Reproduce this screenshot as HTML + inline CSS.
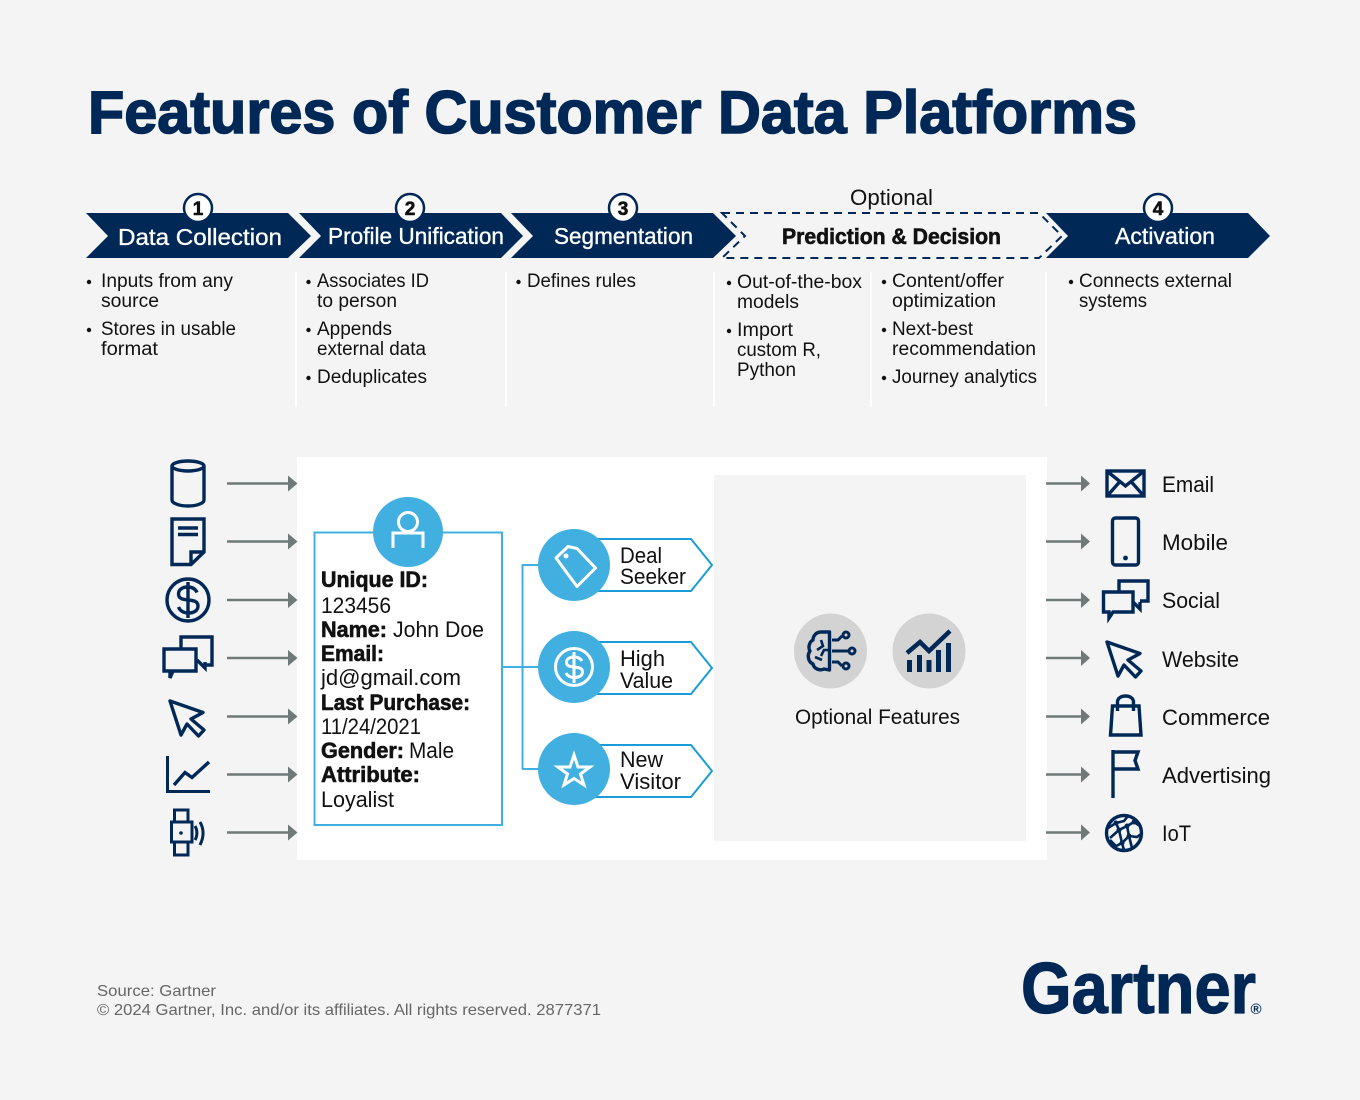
<!DOCTYPE html>
<html><head><meta charset="utf-8"><title>Features of Customer Data Platforms</title>
<style>
html,body{margin:0;padding:0;background:#f4f4f4}
svg{display:block}
text{font-family:"Liberation Sans",sans-serif;fill:#111;font-size:19px}
.w{fill:#fff;font-size:23px;stroke:#fff;stroke-width:.35px}
.b{font-weight:bold}
.m{font-size:22px}
.hv{stroke:#111;stroke-width:.6px}
.s{stroke:#002856;stroke-width:3.4;fill:none}
.c{fill:#41b0e0}
.a{stroke:#6f7a78;stroke-width:2.4;fill:none}
.h{fill:#6f7a78}
.wl{stroke:#fff;stroke-width:3;fill:none}
.t{stroke:#1b9cd8;stroke-width:2;fill:#fff}
.l{stroke:#41b0e0;stroke-width:2;fill:none}
.f{fill:#666;font-size:16px}
.n{font-size:22px}
</style></head><body>
<svg xmlns="http://www.w3.org/2000/svg" width="1360" height="1100" viewBox="0 0 1360 1100">
<rect width="1360" height="1100" fill="#f4f4f4"/>
<text x="88" y="133" textLength="1049" lengthAdjust="spacingAndGlyphs" class="b" style="font-size:60px;fill:#002856;stroke:#002856;stroke-width:1.6px">Features of Customer Data Platforms</text>

<g fill="#002856">
<polygon points="86,213 288,213 311,236 288,258 86,258 108,236"/>
<polygon points="299,213 501,213 523,236 501,258 299,258 321,236"/>
<polygon points="511,213 713,213 736,236 713,258 511,258 533,236"/>
<polygon points="1046,213 1248,213 1270,236 1248,258 1046,258 1068,236"/>
</g>
<path d="M722,213H1039L1062,236L1039,258H722L745,236Z" fill="none" stroke="#002856" stroke-width="2" stroke-dasharray="8 6"/>
<g fill="#fff" stroke="#002856" stroke-width="2.5">
<circle cx="198" cy="208" r="14"/><circle cx="410" cy="208" r="14"/><circle cx="623" cy="208" r="14"/><circle cx="1158" cy="208" r="14"/>
</g>
<text x="198" y="215" text-anchor="middle" class="b hv">1</text>
<text x="410" y="215" text-anchor="middle" class="b hv">2</text>
<text x="623" y="215" text-anchor="middle" class="b hv">3</text>
<text x="1158" y="215" text-anchor="middle" class="b hv">4</text>
<text class="w" x="118" y="245" textLength="164" lengthAdjust="spacingAndGlyphs">Data Collection</text>
<text class="w" x="328" y="244" textLength="176" lengthAdjust="spacingAndGlyphs">Profile Unification</text>
<text class="w" x="554" y="244" textLength="139" lengthAdjust="spacingAndGlyphs">Segmentation</text>
<text class="w" x="1115" y="244" textLength="100" lengthAdjust="spacingAndGlyphs">Activation</text>
<text class="b hv" x="782" y="244" textLength="219" lengthAdjust="spacingAndGlyphs" style="font-size:22px">Prediction &amp; Decision</text>
<text x="850" y="205" textLength="83" lengthAdjust="spacingAndGlyphs" style="font-size:22px">Optional</text>

<g stroke="#fff" stroke-width="2"><path d="M296,272V407M506,272V407M714,272V407M871,272V407M1046,272V407"/></g>

<g fill="#111">
<circle cx="89" cy="282" r="2.2"/><circle cx="89" cy="330" r="2.2"/>
<circle cx="308.500" cy="282" r="2.2"/><circle cx="308.500" cy="330" r="2.2"/><circle cx="308.500" cy="378" r="2.2"/>
<circle cx="518.500" cy="282" r="2.2"/>
<circle cx="729" cy="283" r="2.2"/><circle cx="729" cy="331" r="2.2"/>
<circle cx="884" cy="282" r="2.2"/><circle cx="884" cy="330" r="2.2"/><circle cx="884" cy="378" r="2.2"/>
<circle cx="1071" cy="282" r="2.2"/>
</g>
<text x="101" y="287" textLength="132" lengthAdjust="spacingAndGlyphs">Inputs from any</text>
<text x="101" y="307" textLength="58" lengthAdjust="spacingAndGlyphs">source</text>
<text x="101" y="335" textLength="135" lengthAdjust="spacingAndGlyphs">Stores in usable</text>
<text x="101" y="355" textLength="57" lengthAdjust="spacingAndGlyphs">format</text>
<text x="317" y="287" textLength="112" lengthAdjust="spacingAndGlyphs">Associates ID</text>
<text x="317" y="307" textLength="80" lengthAdjust="spacingAndGlyphs">to person</text>
<text x="317" y="335" textLength="75" lengthAdjust="spacingAndGlyphs">Appends</text>
<text x="317" y="355" textLength="109" lengthAdjust="spacingAndGlyphs">external data</text>
<text x="317" y="383" textLength="110" lengthAdjust="spacingAndGlyphs">Deduplicates</text>
<text x="527" y="287" textLength="109" lengthAdjust="spacingAndGlyphs">Defines rules</text>
<text x="737" y="288" textLength="125" lengthAdjust="spacingAndGlyphs">Out-of-the-box</text>
<text x="737" y="308" textLength="62" lengthAdjust="spacingAndGlyphs">models</text>
<text x="737" y="336" textLength="56" lengthAdjust="spacingAndGlyphs">Import</text>
<text x="737" y="356" textLength="84" lengthAdjust="spacingAndGlyphs">custom R,</text>
<text x="737" y="376" textLength="59" lengthAdjust="spacingAndGlyphs">Python</text>
<text x="892" y="287" textLength="112" lengthAdjust="spacingAndGlyphs">Content/offer</text>
<text x="892" y="307" textLength="104" lengthAdjust="spacingAndGlyphs">optimization</text>
<text x="892" y="335" textLength="81" lengthAdjust="spacingAndGlyphs">Next-best</text>
<text x="892" y="355" textLength="144" lengthAdjust="spacingAndGlyphs">recommendation</text>
<text x="892" y="383" textLength="145" lengthAdjust="spacingAndGlyphs">Journey analytics</text>
<text x="1079" y="287" textLength="153" lengthAdjust="spacingAndGlyphs">Connects external</text>
<text x="1079" y="307" textLength="68" lengthAdjust="spacingAndGlyphs">systems</text>

<rect x="297" y="457" width="750" height="403" fill="#fff"/>
<rect x="714" y="475" width="312" height="366" fill="#f4f4f4"/>

<path class="a" d="M227,483.500H290M227,541.500H290M227,600H290M227,658H290M227,716.500H290M227,774.500H290M227,832.500H290"/>
<g class="h">
<polygon points="288,475.500 297.500,483.500 288,491.500"/><polygon points="288,533.500 297.500,541.500 288,549.500"/><polygon points="288,592 297.500,600 288,608"/><polygon points="288,650 297.500,658 288,666"/><polygon points="288,708.500 297.500,716.500 288,724.500"/><polygon points="288,766.500 297.500,774.500 288,782.500"/><polygon points="288,824.500 297.500,832.500 288,840.500"/>
</g>
<path class="a" d="M1046,483.500H1082M1046,541.500H1082M1046,600H1082M1046,658H1082M1046,716.500H1082M1046,774.500H1082M1046,832.500H1082"/>
<g class="h">
<polygon points="1081,475.500 1090,483.500 1081,491.500"/><polygon points="1081,533.500 1090,541.500 1081,549.500"/><polygon points="1081,592 1090,600 1081,608"/><polygon points="1081,650 1090,658 1081,666"/><polygon points="1081,708.500 1090,716.500 1081,724.500"/><polygon points="1081,766.500 1090,774.500 1081,782.500"/><polygon points="1081,824.500 1090,832.500 1081,840.500"/>
</g>

<!-- left icons -->
<g class="s">
<ellipse cx="188" cy="466" rx="16" ry="5"/><path d="M172,466V500C172,503.500 180,506 188,506S204,503.500 204,500V466"/>
<path d="M172,519H204V552L191,564.500H172ZM191,564V552H204"/><path d="M178,528H198M178,534.500H198"/>
<circle cx="188" cy="600" r="21"/><path d="M197,592.500C195,588 191,587 187.500,587C182,587 178.500,590 178.500,594C178.500,604 198,596 198,606C198,610.500 194,613 188.500,613C184,613 180,611 178.500,607M188,582V618"/>
<path d="M181,648V637H212V665H205M197,660L205,668V662"/><path d="M164,649H196V671H173L170,678V671H164Z"/>
<path stroke-linejoin="round" d="M170,701L203,712.500L191,719L204,730L198.500,736L187,724L181,735Z"/>
<path stroke-width="3" d="M167.500,756V791.500H210"/><path d="M174,785L185,772.500L192,777.500L209,762"/>
<path stroke-width="3" d="M174.500,822V810H188V822M174.500,842V855H188V842"/><rect x="171.500" y="822" width="20.500" height="20" stroke-width="3"/>
<path stroke-width="3" d="M195,826C197.500,830 197.500,836 195,840M200,822C204,829 204,837 200,845"/>
</g>
<circle cx="181" cy="833" r="1.800" fill="#002856"/>

<!-- right icons -->
<g class="s">
<rect x="1107" y="471" width="37" height="25"/><path d="M1108,472L1125.500,486L1143,472M1108,495L1120,481.500M1143,495L1131,481.500"/>
<rect x="1112.500" y="518" width="26" height="47" rx="3"/>
<path d="M1119,591V581H1148V601H1140M1133,602L1140,609V602"/><path d="M1103.500,592H1133V612H1113L1109,618V612H1103.500Z"/>
<path stroke-linejoin="round" d="M1107,642L1140,653.500L1128,660L1141,671L1135.500,677L1124,665L1118,676Z"/>
<path d="M1112.500,706H1139L1141,735H1110.500Z"/><path d="M1117.500,711V702C1117.500,694 1133.500,694 1133.500,702V711"/>
<path d="M1113,750V798"/><path d="M1113,752H1138L1135,760.500L1138,769H1113"/>
<circle cx="1124" cy="833" r="17.500"/>
<path stroke-width="2.600" d="M1108,828L1116,823L1124,821L1128,816M1116,823L1119,830L1110,838M1119,830L1127,826L1134,822L1140,826M1127,826L1129,836L1137,837L1141,834M1129,836L1122,843L1116,846L1110,840M1122,843L1124,850M1129,836L1132,848M1119,830L1122,843"/>
</g>
<g fill="#002856"><circle cx="1116" cy="823" r="2.500"/><circle cx="1127" cy="826" r="2.500"/><circle cx="1119" cy="830" r="2.500"/><circle cx="1129" cy="836" r="2.500"/><circle cx="1122" cy="843" r="2.500"/><circle cx="1134" cy="822" r="2.500"/></g>
<circle cx="1125.500" cy="558" r="2.400" fill="#002856"/>

<!-- card -->
<rect x="314.500" y="532.500" width="187.500" height="292.500" class="l"/>
<circle class="c" cx="408" cy="532" r="35"/>
<circle cx="408" cy="522" r="9.500" class="wl"/><path class="wl" d="M393,548V533H423V548"/>
<text class="m b hv" x="321" y="587" textLength="107" lengthAdjust="spacingAndGlyphs">Unique ID:</text>
<text class="m" x="321" y="613" textLength="70" lengthAdjust="spacingAndGlyphs">123456</text>
<text class="m b hv" x="321" y="637" textLength="66" lengthAdjust="spacingAndGlyphs">Name:</text>
<text class="m" x="393" y="637" textLength="91" lengthAdjust="spacingAndGlyphs">John Doe</text>
<text class="m b hv" x="321" y="661" textLength="63" lengthAdjust="spacingAndGlyphs">Email:</text>
<text class="m" x="321" y="685" textLength="140" lengthAdjust="spacingAndGlyphs">jd@gmail.com</text>
<text class="m b hv" x="321" y="710" textLength="149" lengthAdjust="spacingAndGlyphs">Last Purchase:</text>
<text class="m" x="321" y="734" textLength="100" lengthAdjust="spacingAndGlyphs">11/24/2021</text>
<text class="m b hv" x="321" y="758" textLength="83" lengthAdjust="spacingAndGlyphs">Gender:</text>
<text class="m" x="409" y="758" textLength="45" lengthAdjust="spacingAndGlyphs">Male</text>
<text class="m b hv" x="321" y="782" textLength="99" lengthAdjust="spacingAndGlyphs">Attribute:</text>
<text class="m" x="321" y="807" textLength="73" lengthAdjust="spacingAndGlyphs">Loyalist</text>

<path class="l" d="M502,667H540M522.500,565V769M522,565H540M522,769H540"/>
<polygon class="t" points="590,539 691,539 712,565 691,591 590,591"/>
<polygon class="t" points="590,642 691,642 712,668 691,694 590,694"/>
<polygon class="t" points="590,745 691,745 712,771 691,797 590,797"/>
<circle class="c" cx="574" cy="565" r="36"/><circle class="c" cx="574" cy="667" r="36"/><circle class="c" cx="574" cy="769" r="36"/>
<path class="wl" stroke-linejoin="round" d="M556,558L568,546.500L577,548.500L595.500,568L577,586.500Z"/><circle cx="566" cy="556" r="2.500" fill="#fff"/>
<circle class="wl" cx="574" cy="667" r="18.500"/><path class="wl" stroke-width="2.500" d="M582,661C580,657.500 577,657 574,657C569.500,657 566.500,659 566.500,662.500C566.500,670 582.500,664 582.500,672C582.500,675.500 579,677.500 574.500,677.500C570.500,677.500 567.500,676 566,673M574,652V683"/>
<polygon class="wl" stroke-width="2.500" stroke-linejoin="miter" points="574,755 578,767 590,767 580.500,774 584,785 574,778.500 564,785 567.500,774 558,767 570,767"/>
<text class="n" x="620" y="563" textLength="42" lengthAdjust="spacingAndGlyphs">Deal</text>
<text class="n" x="620" y="584" textLength="66" lengthAdjust="spacingAndGlyphs">Seeker</text>
<text class="n" x="620" y="666" textLength="45" lengthAdjust="spacingAndGlyphs">High</text>
<text class="n" x="620" y="688" textLength="53" lengthAdjust="spacingAndGlyphs">Value</text>
<text class="n" x="620" y="767" textLength="43" lengthAdjust="spacingAndGlyphs">New</text>
<text class="n" x="620" y="789" textLength="61" lengthAdjust="spacingAndGlyphs">Visitor</text>

<!-- optional -->
<ellipse cx="830.500" cy="651" rx="36.500" ry="37.500" fill="#d3d3d3"/>
<ellipse cx="929" cy="651" rx="36.500" ry="37.500" fill="#d3d3d3"/>
<g class="s">
<path stroke-linejoin="round" d="M829.500,632H821C816,632 813,636 813,640C809,642 808,648 810,651C807,655 808,662 813,664C814,669 820,671 824,669L829.500,670Z"/>
<path stroke-width="2.600" d="M821,640L823,646L817,650M821,656L824,650L829,650M815,657L822,660"/>
<path stroke-width="3" d="M832,640H838L842,636M832,651H850M832,662H838L842,666"/>
</g>
<g fill="none" stroke="#002856" stroke-width="3"><circle cx="846" cy="635" r="3"/><circle cx="852" cy="651" r="3"/><circle cx="846" cy="666" r="3"/></g>
<g fill="#002856">
<rect x="907" y="660" width="5" height="12"/><rect x="917" y="655" width="5" height="17"/><rect x="926.500" y="660" width="5" height="12"/><rect x="936" y="650" width="5" height="22"/><rect x="946" y="643" width="5" height="29"/>
</g>
<path d="M907,653L920,642L929,651L950,631" fill="none" stroke="#002856" stroke-width="4.500"/>
<text x="795" y="724" textLength="165" lengthAdjust="spacingAndGlyphs" style="font-size:21px">Optional Features</text>

<text class="n" x="1162" y="492" textLength="52" lengthAdjust="spacingAndGlyphs">Email</text>
<text class="n" x="1162" y="550" textLength="66" lengthAdjust="spacingAndGlyphs">Mobile</text>
<text class="n" x="1162" y="608" textLength="58" lengthAdjust="spacingAndGlyphs">Social</text>
<text class="n" x="1162" y="667" textLength="77" lengthAdjust="spacingAndGlyphs">Website</text>
<text class="n" x="1162" y="725" textLength="108" lengthAdjust="spacingAndGlyphs">Commerce</text>
<text class="n" x="1162" y="783" textLength="109" lengthAdjust="spacingAndGlyphs">Advertising</text>
<text class="n" x="1162" y="841" textLength="29" lengthAdjust="spacingAndGlyphs">IoT</text>

<text class="f" x="97" y="996" textLength="119" lengthAdjust="spacingAndGlyphs">Source: Gartner</text>
<text class="f" x="97" y="1015" textLength="504" lengthAdjust="spacingAndGlyphs">© 2024 Gartner, Inc. and/or its affiliates. All rights reserved. 2877371</text>
<text class="b" x="1021" y="1013" textLength="235" lengthAdjust="spacingAndGlyphs" style="font-size:72px;fill:#002856;stroke:#002856;stroke-width:1.2px">Gartner</text>
<text class="b" x="1256" y="1014" text-anchor="middle" style="font-size:15px;fill:#002856">®</text>
</svg>
</body></html>
